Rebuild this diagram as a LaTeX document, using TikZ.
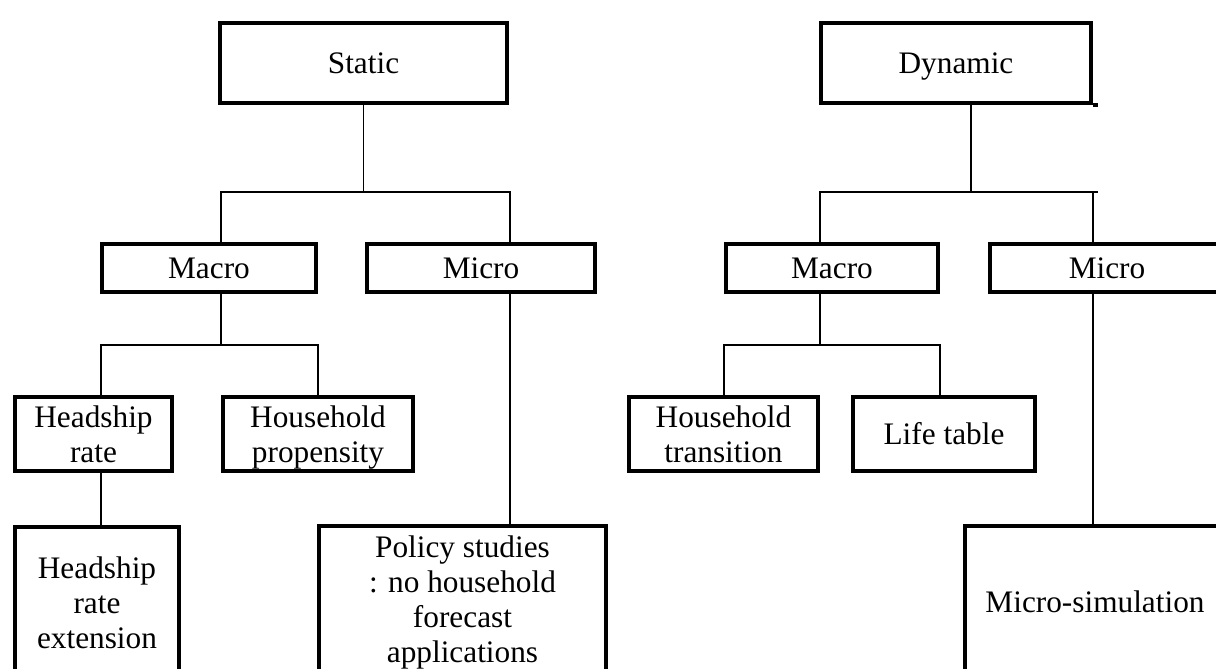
\documentclass[tikz,border=0pt]{standalone}
\usepackage{fontspec}
\setmainfont{Liberation Serif}
\begin{document}
\begin{tikzpicture}[x=1pt,y=-1pt,
  box/.style={draw, line width=4pt, inner sep=0pt,
    font=\fontsize{31.3}{35}\selectfont},
  bx/.style n args={2}{box, minimum width=#1pt, minimum height=#2pt,
    text height=21.4pt, text depth=0pt},
  mbx/.style n args={2}{box, minimum width=#1pt, minimum height=#2pt,
    align=center},
  conn/.style={line width=1.8pt}]
\useasboundingbox (0,0) rectangle (1216,669);
\clip (0,0) rectangle (1216,669);
% nodes
\node[bx={287}{80}] (static) at (363.5,63) {Static};
\node[bx={270}{80}] (dynamic) at (956,63) {Dynamic};
\node[bx={214}{48}] (smacro) at (209,268) {Macro};
\node[bx={228}{48}] (smicro) at (481,268) {Micro};
\node[bx={212}{48}] (dmacro) at (832,268) {Macro};
\node[bx={234}{48}] (dmicro) at (1107,268) {Micro};
\node[mbx={157}{74}] (headship) at (93.5,434) {Headship\\rate};
\node[mbx={190}{74}] (propensity) at (318,434) {Household\\\smash{propensity}};
\node[mbx={189}{74}] (transition) at (723.5,434) {Household\\transition};
\node[bx={182}{74}] (lifetable) at (944,434) {Life table};
\node[mbx={164}{152}] (extension) at (97,603) {Headship\\rate\\extension};
\node[mbx={287}{152}] (policy) at (462.5,602) {Policy studies\\: no household\\forecast\\applications};
\node[bx={260}{153}] (microsim) at (1095,602) {Micro-simulation};
% static connectors
\coordinate (sL) at (221,192);
\coordinate (sR) at (510,192);
\draw[conn] (static.south) -- (static.south |- sL);
\draw[conn] (smacro.north -| sL) -- (sL) -- (sR) -- (smicro.north -| sR);
\coordinate (mL) at (101,345);
\coordinate (mR) at (318,345);
\draw[conn] (smacro.south -| sL) -- (sL |- mL);
\draw[conn] (headship.north -| mL) -- (mL) -- (mR) -- (propensity.north -| mR);
\draw[conn] (headship.south -| mL) -- (extension.north -| mL);
\draw[conn] (smicro.south -| sR) -- (policy.north -| sR);
% dynamic connectors
\coordinate (dT) at (971,192);
\coordinate (dL) at (820,192);
\coordinate (dR) at (1093,192);
\coordinate (dE) at (1098,192);
\draw[conn] (dynamic.south -| dT) -- (dT);
\draw[conn] (dmacro.north -| dL) -- (dL) -- (dE);
\draw[conn] (dR) -- (dmicro.north -| dR);
\coordinate (nL) at (724,345);
\coordinate (nR) at (940,345);
\draw[conn] (dmacro.south -| dL) -- (dL |- nL);
\draw[conn] (transition.north -| nL) -- (nL) -- (nR) -- (lifetable.north -| nR);
\draw[conn] (dmicro.south -| dR) -- (microsim.north -| dR);
\draw[line width=4pt] (dynamic.south east) -- ++(5,0);
\end{tikzpicture}
\end{document}
